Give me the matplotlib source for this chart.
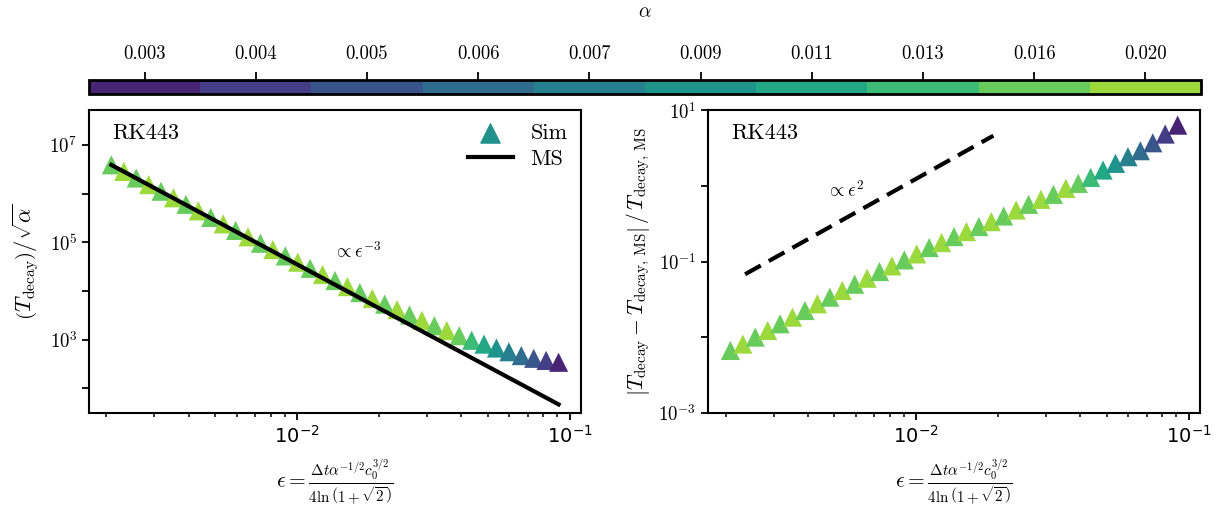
import numpy as np
import matplotlib
matplotlib.use("Agg")
import matplotlib.pyplot as plt
from matplotlib.colors import ListedColormap, Normalize
from matplotlib.cm import ScalarMappable

plt.rcParams['font.family'] = 'serif'
plt.rcParams['font.serif'] = ['cmr10']
plt.rcParams['mathtext.fontset'] = 'cm'
plt.rcParams['axes.unicode_minus'] = False
plt.rcParams['axes.formatter.use_mathtext'] = True
plt.rcParams['font.size'] = 13
plt.rcParams['axes.linewidth'] = 1.5
plt.rcParams['xtick.major.width'] = 1.3
plt.rcParams['ytick.major.width'] = 1.3
plt.rcParams['xtick.minor.width'] = 1.1
plt.rcParams['xtick.major.size'] = 5
plt.rcParams['ytick.major.size'] = 5
plt.rcParams['xtick.minor.size'] = 3

# colour bar classes (alpha)
alpha_levels = [0.003, 0.004, 0.005, 0.006, 0.007, 0.009, 0.011, 0.013, 0.016, 0.020]
alpha_labels = ['0.003', '0.004', '0.005', '0.006', '0.007',
                '0.009', '0.011', '0.013', '0.016', '0.020']

# epsilon of each simulation
eps = [0.002084, 0.002315, 0.002571, 0.002855, 0.003171, 0.003522, 0.003912,
       0.004344, 0.004825, 0.005358, 0.005951, 0.006610, 0.007340, 0.008152,
       0.009054, 0.010054, 0.011167, 0.012401, 0.013772, 0.015296, 0.016987,
       0.018866, 0.020951, 0.023269, 0.025841, 0.028700, 0.031874, 0.035400,
       0.039316, 0.043661, 0.048489, 0.053850, 0.059808, 0.066419, 0.073768,
       0.081915, 0.090991]

# alpha of each simulation
alpha = [0.016, 0.020, 0.016, 0.020, 0.016, 0.020, 0.016, 0.020, 0.016, 0.020,
         0.016, 0.020, 0.016, 0.020, 0.016, 0.020, 0.016, 0.020, 0.016, 0.020,
         0.016, 0.020, 0.016, 0.020, 0.016, 0.020, 0.016, 0.020, 0.016, 0.013,
         0.011, 0.009, 0.007, 0.006, 0.005, 0.004, 0.003]

# T_decay / sqrt(alpha), simulations
t_sim = [3.916e6, 2.863e6, 2.094e6, 1.532e6, 1.121e6, 8.214e5, 6.020e5,
         4.416e5, 3.243e5, 2.385e5, 1.755e5, 1.294e5, 9.563e4, 7.071e4,
         5.245e4, 3.901e4, 2.916e4, 2.175e4, 1.635e4, 1.228e4, 9.257e3,
         7.003e3, 5.355e3, 4.131e3, 3.200e3, 2.476e3, 1.925e3, 1.528e3,
         1.203e3, 9.69e2, 8.07e2, 6.71e2, 5.63e2, 4.69e2, 4.12e2, 3.73e2, 3.42e2]

# relative error |T - T_MS| / T_MS
rel_err = [0.00670, 0.00813, 0.01005, 0.01230, 0.01507, 0.01845, 0.02259,
           0.02767, 0.03388, 0.04150, 0.05023, 0.06026, 0.07379, 0.08770,
           0.1052, 0.1262, 0.1531, 0.1782, 0.2138, 0.2489, 0.2897, 0.3365,
           0.3999, 0.4797, 0.5702, 0.6637, 0.7727, 0.9268, 1.079, 1.294,
           1.618, 1.982, 2.427, 2.911, 3.707, 4.831, 6.339]

# multiple-scales prediction (straight line in log-log)
ms_eps = [0.002084, 0.090991]
ms_t = [3.89e6, 46.6]

# eps^2 guide line
guide_eps = [0.00236, 0.0192]
guide_val = [0.068, 4.6]

cmap = ListedColormap(plt.cm.viridis(np.linspace(0.1, 0.85, len(alpha_levels))))
point_colors = [cmap(alpha_levels.index(a)) for a in alpha]

xlabel = r'$\epsilon = \frac{\Delta t \alpha^{-1/2} c_0^{3/2}}{4 \ln\left(1+\sqrt{2}\right)}$'

fig = plt.figure(figsize=(12.29, 5.09), dpi=100)
ax1 = fig.add_axes([0.0724, 0.1886, 0.4003, 0.595])
ax2 = fig.add_axes([0.5761, 0.1886, 0.4003, 0.595])
cax = fig.add_axes([0.0724, 0.8153, 0.9048, 0.0275])

# left panel
ax1.scatter(eps, t_sim, c=point_colors, marker='^', s=190, linewidths=0, zorder=2)
ax1.plot(ms_eps, ms_t, color='black', lw=3, zorder=3)
ax1.scatter([], [], marker='^', s=190, color=plt.cm.viridis(0.5), label='Sim')
ax1.plot([], [], color='black', lw=3, label='MS')
ax1.set_xscale('log')
ax1.set_yscale('log')
ax1.set_ylim(31, 5.2e7)
ax1.set_yticks([1e2, 1e3, 1e4, 1e5, 1e6, 1e7],
               labels=['', r'$10^3$', '', r'$10^5$', '', r'$10^7$'], fontsize=13.5)
ax1.yaxis.set_minor_locator(plt.NullLocator())
ax1.text(0.0021, 0.924, 'RK443', fontsize=16, va='center',
         transform=ax1.get_xaxis_transform())
ax1.text(0.01356, 6.6e4, r'$\propto \epsilon^{-3}$', fontsize=13.5, va='center')
ax1.set_ylabel(r'$\left(T_{\rm decay}\right) / \sqrt{\alpha}$', fontsize=16, labelpad=6)
ax1.legend(loc='upper right', frameon=False, fontsize=16, borderaxespad=0.2,
           handlelength=2.0, handletextpad=0.8, labelspacing=0.3)

# right panel
ax2.scatter(eps, rel_err, c=point_colors, marker='^', s=190, linewidths=0, zorder=2)
ax2.plot(guide_eps, guide_val, color='black', lw=3, dashes=(4.3, 2.2))
ax2.set_xscale('log')
ax2.set_yscale('log')
ax2.set_ylim(1e-3, 1e1)
ax2.set_yticks([1e-3, 1e-2, 1e-1, 1e0, 1e1],
               labels=[r'$10^{-3}$', '', r'$10^{-1}$', '', r'$10^1$'], fontsize=13.5)
ax2.yaxis.set_minor_locator(plt.NullLocator())
ax2.text(0.0021, 0.924, 'RK443', fontsize=16, va='center',
         transform=ax2.get_xaxis_transform())
ax2.text(0.00467, 0.88, r'$\propto \epsilon^2$', fontsize=13.5, va='center')
ax2.set_ylabel(r'$\left|T_{\rm decay} - T_{\rm decay,\,MS}\right| \,/\, T_{\rm decay,\,MS}$',
               fontsize=15.5, labelpad=4)

for ax in (ax1, ax2):
    ax.set_xticks([1e-2, 1e-1], labels=[r'$10^{-2}$', r'$10^{-1}$'], fontsize=14,
                  fontfamily='DejaVu Sans', math_fontfamily='dejavusans')
    ax.set_xlabel(xlabel, fontsize=15.5, labelpad=8)

# colour bar
sm = ScalarMappable(norm=Normalize(0, len(alpha_levels)), cmap=cmap)
cb = fig.colorbar(sm, cax=cax, orientation='horizontal',
                  ticks=np.arange(len(alpha_levels)) + 0.5)
cb.ax.xaxis.set_ticks_position('top')
cb.ax.xaxis.set_label_position('top')
cb.set_ticklabels(alpha_labels)
cb.ax.tick_params(labelsize=13.5, length=6, width=1.3, pad=6)
cb.ax.minorticks_off()
cb.outline.set_linewidth(2)
cb.set_label(r'$\alpha$', fontsize=14, labelpad=20)

fig.savefig('out.png', dpi=100)
